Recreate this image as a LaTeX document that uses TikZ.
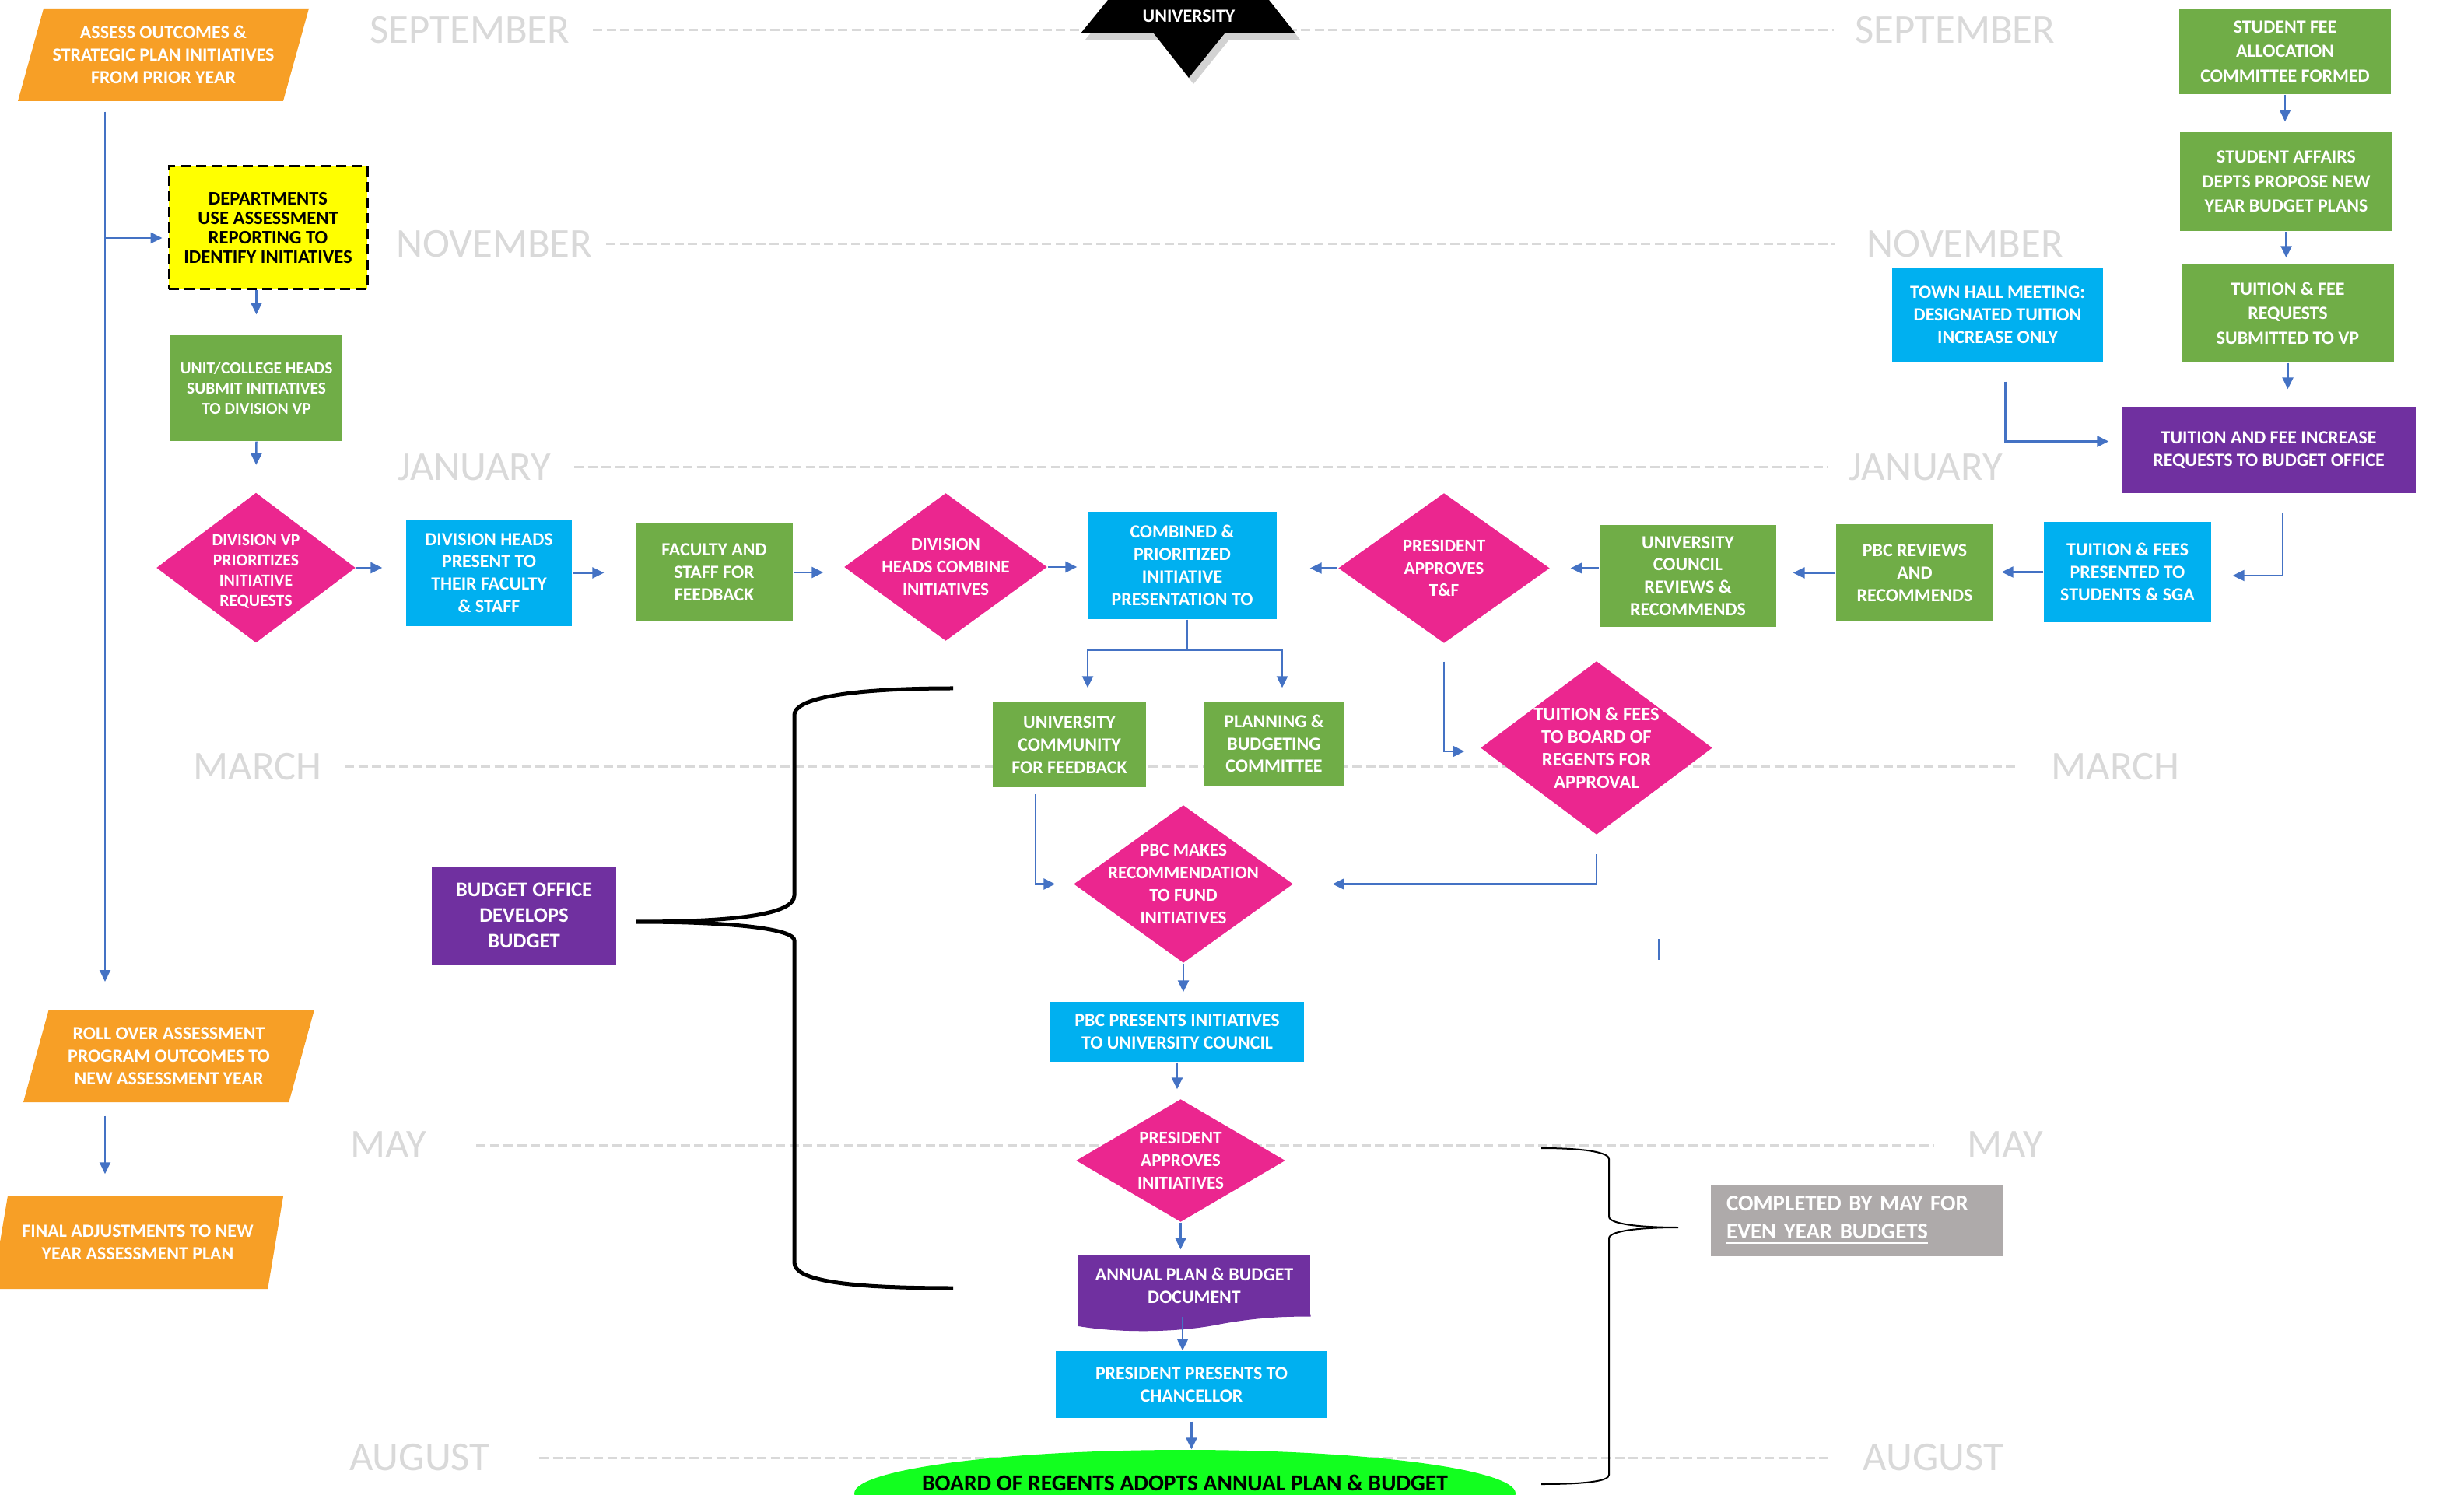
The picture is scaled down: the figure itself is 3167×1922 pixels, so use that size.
\documentclass[tikz,border=0pt]{standalone}
\usepackage{fontspec}
\setmainfont{Carlito}
\usetikzlibrary{arrows.meta,shapes.geometric,shadows}
\definecolor{orng}{RGB}{247,159,38}
\definecolor{grn}{RGB}{112,173,71}
\definecolor{cyn}{RGB}{0,176,240}
\definecolor{pnk}{RGB}{235,38,143}
\definecolor{prp}{RGB}{112,48,160}
\definecolor{arrblue}{RGB}{68,114,196}
\definecolor{mgray}{RGB}{217,217,217}
\definecolor{gbx}{RGB}{174,170,170}
\definecolor{lime}{RGB}{18,255,31}
\definecolor{yel}{RGB}{255,255,0}
\begin{document}
\begin{tikzpicture}[x=0.1mm,y=-0.1mm,
    box/.style={rectangle,inner sep=0pt,align=center,text=white,font=\bfseries\fontsize{6.8}{8.2}\selectfont},
    gbox/.style={box,fill=grn},
    bbox/.style={box,fill=cyn},
    pbox/.style={box,fill=prp},
    dmd/.style={diamond,fill=pnk,inner sep=0pt},
    dtxt/.style={align=center,text=white,font=\bfseries\fontsize{6.6}{8.2}\selectfont},
    para/.style={trapezium,trapezium left angle=66,trapezium right angle=114,trapezium stretches body,fill=orng,inner sep=0pt,minimum width=37.4mm,minimum height=11.9mm,align=center,text=white,font=\bfseries\fontsize{6.8}{8.2}\selectfont},
    month/.style={text=mgray,inner sep=0pt,font=\fontsize{15}{15}\selectfont},
    mline/.style={draw=mgray,line width=0.3mm,dash pattern=on 1.2mm off 0.55mm},
    arr/.style={draw=arrblue,line width=0.25mm,-{Triangle[length=1.5mm,width=1.4mm]}}]
    \path[use as bounding box,fill=white] (0,0) rectangle (3167,1922);
    \foreach \nm/\mon/\y/\xl/\xr/\gl/\gr in {sep/SEPTEMBER/39/733/2384/2.9/2.7,nov/NOVEMBER/314/762/2399/1.7/4,jan/JANUARY/601/709/2376/2.9/2.6,mar/MARCH/986/414/2636/2.9/4.1,may/MAY/1472/549/2528/6.3/4.2,aug/AUGUST/1874/630/2394/6.3/4} {
      \node[month,anchor=east] (\nm-l) at (\xl,\y) {\mon};
      \node[month,anchor=west] (\nm-r) at (\xr,\y) {\mon};
      \draw[mline,shorten <=\gl mm,shorten >=\gr mm] (\nm-l.east) -- (\nm-r.west);
    }
    \fill[black,drop shadow={shadow xshift=0.6mm,shadow yshift=-0.8mm,opacity=0.35}] (1424,0) -- (1631,0) -- (1665,43) -- (1574,43) -- (1528,100) -- (1483,43) -- (1389,43) -- cycle;
    \node[text=white,font=\bfseries\fontsize{6.8}{8}\selectfont] (univ) at (1528,21) {UNIVERSITY};
    \draw[line width=0.5mm] (1225,885) .. controls (1080,885) and (1021,900) .. (1021,919) -- (1021,1151) .. controls (1021,1175) and (950,1185) .. (817,1185) .. controls (950,1185) and (1021,1195) .. (1021,1209) -- (1021,1623) .. controls (1021,1645) and (1080,1656) .. (1225,1656);
    \draw[line width=0.2mm] (1981,1476) .. controls (2040,1476) and (2068,1482) .. (2068,1490) -- (2068,1564) .. controls (2068,1574) and (2110,1578) .. (2157,1578) .. controls (2110,1578) and (2068,1582) .. (2068,1592) -- (2068,1896) .. controls (2068,1904) and (2040,1908) .. (1981,1908);
    \node[para] (assess) at (210,70.5) {ASSESS OUTCOMES \&\\STRATEGIC PLAN INITIATIVES\\FROM PRIOR YEAR};
    \node[box,fill=yel,text=black,draw=black,line width=0.3mm,dash pattern=on 1.3mm off 0.7mm,minimum width=25.5mm,minimum height=15.8mm,font=\bfseries\fontsize{7}{7.1}\selectfont] (dept) at (344.5,293) {DEPARTMENTS\\USE ASSESSMENT\\REPORTING TO\\IDENTIFY INITIATIVES};
    \node[gbox,minimum width=22.1mm,minimum height=13.6mm,font=\bfseries\fontsize{6.1}{7.3}\selectfont] (unit) at (329.5,499) {UNIT/COLLEGE HEADS\\SUBMIT INITIATIVES\\TO DIVISION VP};
    \node[dmd,minimum width=25.6mm,minimum height=19.3mm,label={[dtxt,yshift=-0.5mm,font=\bfseries\fontsize{6.2}{7.4}\selectfont]center:DIVISION VP\\PRIORITIZES\\INITIATIVE\\REQUESTS}] (dvp) at (329,730) {};
    \node[bbox,minimum width=21.3mm,minimum height=13.7mm] (dheads) at (628.5,736.5) {DIVISION HEADS\\PRESENT TO\\THEIR FACULTY\\\& STAFF};
    \node[gbox,minimum width=20.2mm,minimum height=12.6mm] (faculty) at (918,736) {FACULTY AND\\STAFF FOR\\FEEDBACK};
    \node[dmd,minimum width=26.1mm,minimum height=19mm,label={[dtxt]center:DIVISION\\HEADS COMBINE\\INITIATIVES}] (dcombine) at (1215.5,729) {};
    \node[bbox,minimum width=24.3mm,minimum height=13.8mm] (combined) at (1519.5,727) {COMBINED \&\\PRIORITIZED\\INITIATIVE\\PRESENTATION TO};
    \node[dmd,minimum width=27.2mm,minimum height=19.3mm,label={[dtxt]center:PRESIDENT\\APPROVES\\T\&F}] (presTF) at (1856,730.5) {};
    \node[gbox,minimum width=22.7mm,minimum height=13.1mm] (ucouncil) at (2169.5,740.5) {UNIVERSITY\\COUNCIL\\REVIEWS \&\\RECOMMENDS};
    \node[gbox,minimum width=20.2mm,minimum height=12.5mm] (pbcrev) at (2461,736.5) {PBC REVIEWS\\AND\\RECOMMENDS};
    \node[bbox,minimum width=21.5mm,minimum height=12.9mm] (tfpres) at (2734.5,735.5) {TUITION \& FEES\\PRESENTED TO\\STUDENTS \& SGA};
    \node[pbox,minimum width=37.8mm,minimum height=11.1mm] (tfbudget) at (2916,578.5) {TUITION AND FEE INCREASE\\REQUESTS TO BUDGET OFFICE};
    \node[bbox,minimum width=27.1mm,minimum height=12.2mm] (townhall) at (2567.5,405) {TOWN HALL MEETING:\\DESIGNATED TUITION\\INCREASE ONLY};
    \node[gbox,minimum width=27.2mm,minimum height=11mm,font=\bfseries\fontsize{6.8}{9}\selectfont] (sfee) at (2937,66) {STUDENT FEE\\ALLOCATION\\COMMITTEE FORMED};
    \node[gbox,minimum width=27.3mm,minimum height=12.7mm,font=\bfseries\fontsize{6.8}{9}\selectfont] (saffairs) at (2938.5,233.5) {STUDENT AFFAIRS\\DEPTS PROPOSE NEW\\YEAR BUDGET PLANS};
    \node[gbox,minimum width=27.3mm,minimum height=12.7mm,font=\bfseries\fontsize{6.8}{9}\selectfont] (tfreq) at (2940.5,402.5) {TUITION \& FEE\\REQUESTS\\SUBMITTED TO VP};
    \node[gbox,minimum width=19.7mm,minimum height=10.9mm] (ucomm) at (1374.5,957.5) {UNIVERSITY\\COMMUNITY\\FOR FEEDBACK};
    \node[gbox,minimum width=18.1mm,minimum height=10.8mm] (pbcomm) at (1637.5,956) {PLANNING \&\\BUDGETING\\COMMITTEE};
    \node[dmd,minimum width=29.8mm,minimum height=22.3mm,label={[dtxt,font=\bfseries\fontsize{7}{8.2}\selectfont]center:TUITION \& FEES\\TO BOARD OF\\REGENTS FOR\\APPROVAL}] (bor) at (2052,961.5) {};
    \node[dmd,minimum width=28.2mm,minimum height=20.3mm,label={[dtxt]center:PBC MAKES\\RECOMMENDATION\\TO FUND\\INITIATIVES}] (pbcrec) at (1521,1136.5) {};
    \node[bbox,minimum width=32.6mm,minimum height=7.7mm] (pbcpres) at (1513,1326.5) {PBC PRESENTS INITIATIVES\\TO UNIVERSITY COUNCIL};
    \node[dmd,minimum width=26.9mm,minimum height=15.8mm,label={[dtxt]center:PRESIDENT\\APPROVES\\INITIATIVES}] (presinit) at (1517.5,1492) {};
    \node[pbox,minimum width=29.8mm,minimum height=7.8mm] (annual) at (1535,1653) {ANNUAL PLAN \& BUDGET\\DOCUMENT};
    \fill[prp] ([yshift=0.3mm]annual.south east) -- (annual.south east) .. controls (1640,1692) and (1600,1696) .. (1560,1704) .. controls (1510,1713) and (1440,1714) .. (1386,1705) -- ([yshift=0.3mm]annual.south west) -- cycle;
    \node[bbox,minimum width=34.9mm,minimum height=8.6mm] (prespres) at (1531.5,1780) {PRESIDENT PRESENTS TO\\CHANCELLOR};
    \node[ellipse,fill=lime,inner sep=0pt,minimum width=85mm,minimum height=11.2mm] (adopt) at (1523,1920) {};
    \node[font=\bfseries\fontsize{8.4}{10}\selectfont] (adopt-t) at (1523,1906) {BOARD OF REGENTS ADOPTS ANNUAL PLAN \& BUDGET};
    \node[pbox,minimum width=23.7mm,minimum height=12.6mm,font=\bfseries\fontsize{7.6}{9.3}\selectfont] (budget) at (673.5,1177) {BUDGET OFFICE\\DEVELOPS\\BUDGET};
    \node[para] (rollover) at (217,1357.5) {ROLL OVER ASSESSMENT\\PROGRAM OUTCOMES TO\\NEW ASSESSMENT YEAR};
    \node[para] (finaladj) at (177,1597.5) {FINAL ADJUSTMENTS TO NEW\\YEAR ASSESSMENT PLAN};
    \node[fill=gbx,text=white,text width=33.6mm,inner xsep=2mm,inner ysep=0pt,minimum height=9.2mm,align=left,font=\bfseries\fontsize{8.2}{10.2}\selectfont] (note) at (2387,1569) {COMPLETED BY MAY FOR\\\underline{EVEN YEAR BUDGETS}};
    \coordinate (spine) at (135,1262);
    \draw[arr,line width=0.2mm,shorten <=1.3mm] (assess.south -| spine) -- (spine);
    \coordinate (deptin) at ([yshift=-1.3mm]dept.west);
    \draw[arr,shorten >=0.7mm] (spine |- deptin) -- (deptin);
    \draw[arr,shorten >=2.6mm] (unit.north |- dept.south) -- (unit.north);
    \draw[arr,shorten >=3.5mm] (unit.south) -- (dvp.north);
    \draw[arr,shorten >=3mm] (dvp.east) -- (dvp.east -| dheads.west);
    \draw[arr,shorten >=4mm] (dheads.east) -- (dheads.east -| faculty.west);
    \draw[arr,shorten >=2.6mm] (faculty.east) -- (faculty.east -| dcombine.west);
    \draw[arr,shorten >=1.3mm] (dcombine.east) -- (dcombine.east -| combined.west);
    \draw[arr,shorten >=4.2mm] (presTF.west) -- (presTF.west -| combined.east);
    \draw[arr,shorten >=2.6mm] (presTF.east -| ucouncil.west) -- (presTF.east);
    \draw[arr,shorten >=2.1mm] (pbcrev.west) -- (pbcrev.west -| ucouncil.east);
    \draw[arr,shorten >=1mm] (tfpres.west) -- (tfpres.west -| pbcrev.east);
    \draw[arr,shorten <=2.5mm,shorten >=2.7mm] ([xshift=1.8mm]tfbudget.south) |- ([yshift=-0.45mm]tfpres.east);
    \draw[arr,shorten <=2.4mm,shorten >=1.6mm] ([xshift=1mm]townhall.south) |- ([yshift=1.1mm]tfbudget.west);
    \draw[arr,shorten >=1.3mm] (sfee.south) -- (sfee.south |- saffairs.north);
    \draw[arr,shorten >=0.7mm] (saffairs.south) -- (saffairs.south |- tfreq.north);
    \draw[arr,shorten >=2.2mm] (tfreq.south) -- (tfreq.south |- tfbudget.north);
    \draw[draw=arrblue,line width=0.25mm] ([xshift=0.65mm]combined.south) -- ++(0,39) coordinate (split);
    \draw[arr,shorten >=1.8mm] (split) -| ([xshift=2.35mm]ucomm.north);
    \draw[arr,shorten >=1.7mm] (split) -| ([xshift=1.05mm]pbcomm.north);
    \draw[arr,shorten <=0.8mm,shorten >=2.3mm] ([xshift=-4.35mm]ucomm.south) |- (pbcrec.west);
    \draw[arr,shorten <=2.3mm,shorten >=2mm] (presTF.south) |- ([yshift=-0.45mm]bor.west);
    \draw[arr,shorten <=2.4mm,shorten >=5mm] (bor.south) |- (pbcrec.east);
    \draw[draw=arrblue,line width=0.15mm] (2132,1207) -- (2132,1234);
    \draw[arr,shorten >=1.2mm] (pbcrec.south) -- (pbcrec.south |- pbcpres.north);
    \draw[arr,shorten >=1.2mm] (pbcpres.south) -- (pbcpres.south |- presinit.north);
    \draw[arr,shorten >=0.7mm] (presinit.south) -- (presinit.south |- annual.north);
    \coordinate (docout) at ([xshift=-1.5mm]annual.south);
    \draw[arr] (docout) -- (docout |- prespres.north);
    \draw[arr,shorten <=0.4mm] (prespres.south) -- (prespres.south |- adopt.north);
    \draw[arr,line width=0.2mm,shorten <=1.7mm,shorten >=2.8mm] (rollover.south -| spine) -- (finaladj.north -| spine);
\end{tikzpicture}
\end{document}
